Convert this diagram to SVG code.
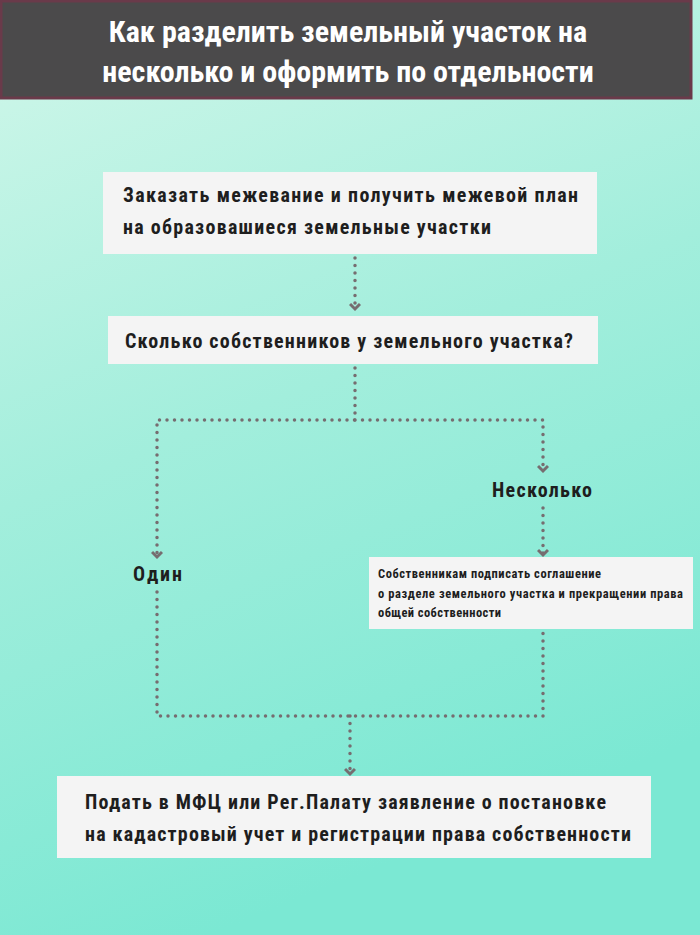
<svg xmlns="http://www.w3.org/2000/svg" width="700" height="935" viewBox="0 0 700 935">
<defs>
<linearGradient id="bg" x1="0" y1="0" x2="0.3" y2="1">
<stop offset="0" stop-color="#d2f7ea"/><stop offset="0.5" stop-color="#a2eedc"/><stop offset="1" stop-color="#7be8d3"/>
</linearGradient>
<marker id="ah" viewBox="0 0 10 12" refX="8" refY="6" markerWidth="10" markerHeight="12" markerUnits="userSpaceOnUse" orient="auto">
<path d="M2,1 L7,6 L2,11" fill="none" stroke="#766d70" stroke-width="3"/>
</marker>
</defs>
<style>
.box{fill:#f4f4f4}
.t{font-family:"Liberation Sans Narrow","Roboto Condensed","Roboto","Liberation Sans",sans-serif;fill:#1e1e1e}
.c{fill:none;stroke:#766d70;stroke-width:3.5;stroke-linecap:round;stroke-dasharray:0 7.5}
</style>
<rect width="700" height="935" fill="url(#bg)"/>
<g id="header">
<rect x="1" y="1" width="690" height="97" fill="#4b4a4b" stroke="#6a3a4a" stroke-width="3"/>
<text class="t" x="348" y="42" font-size="30" font-weight="bold" style="fill:#fff" text-anchor="middle">Как разделить земельный участок на</text>
<text class="t" x="348" y="82" font-size="30" font-weight="bold" style="fill:#fff" text-anchor="middle">несколько и оформить по отдельности</text>
</g>
<g id="connectors">
<path class="c" d="M355,258 V310" marker-end="url(#ah)"/>
<path class="c" d="M355,368 V420 H157 V558" marker-end="url(#ah)"/>
<path class="c" d="M355,420 H543 V472" marker-end="url(#ah)"/>
<path class="c" d="M543,508 V556" marker-end="url(#ah)"/>
<path class="c" d="M157,592 V716 H543 V632"/>
<path class="c" d="M350,716 V775" marker-end="url(#ah)"/>
</g>
<g id="step1">
<rect class="box" x="103" y="172" width="494" height="82"/>
<text class="t" x="123" y="202" font-size="20" font-weight="bold" textLength="455">Заказать межевание и получить межевой план</text>
<text class="t" x="123" y="234" font-size="20" font-weight="bold" textLength="368">на образовашиеся земельные участки</text>
</g>
<g id="question">
<rect class="box" x="108" y="316" width="490" height="48"/>
<text class="t" x="125" y="348" font-size="20" font-weight="bold" textLength="448">Сколько собственников у земельного участка?</text>
</g>
<g id="many"><text class="t" x="492" y="497" font-size="20" font-weight="bold" textLength="100">Несколько</text></g>
<g id="one"><text class="t" x="133" y="581" font-size="20" font-weight="bold" textLength="49">Один</text></g>
<g id="agreement">
<rect class="box" x="369" y="557" width="324" height="72"/>
<text class="t" x="378" y="578" font-size="12.5" font-weight="bold" textLength="223">Собственникам подписать соглашение</text>
<text class="t" x="378" y="598" font-size="12.5" font-weight="bold" textLength="305">о разделе земельного участка и прекращении права</text>
<text class="t" x="378" y="617" font-size="12.5" font-weight="bold" textLength="123">общей собственности</text>
</g>
<g id="final">
<rect class="box" x="57" y="776" width="594" height="82"/>
<text class="t" x="85" y="809" font-size="20" font-weight="bold" textLength="521">Подать в МФЦ или Рег.Палату заявление о постановке</text>
<text class="t" x="85" y="841" font-size="20" font-weight="bold" textLength="546">на кадастровый учет и регистрации права собственности</text>
</g>
</svg>
